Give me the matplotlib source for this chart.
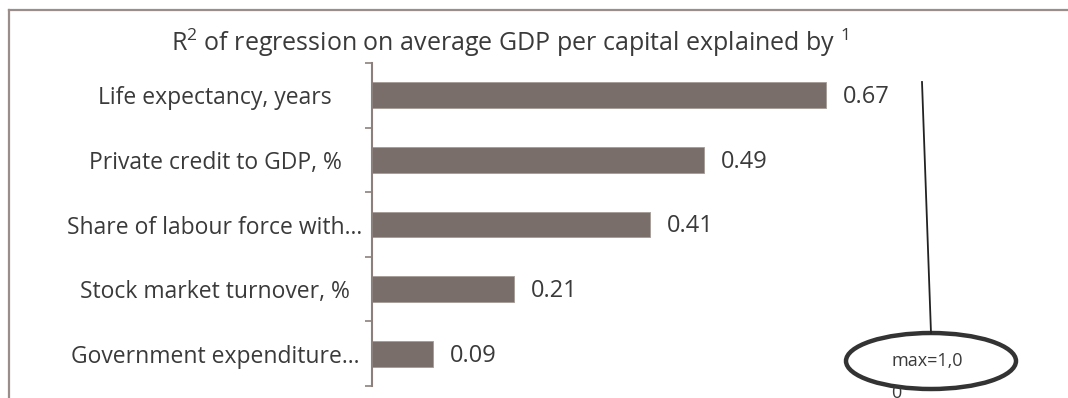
import matplotlib
matplotlib.use("Agg")
import matplotlib.pyplot as plt
from matplotlib.patches import Ellipse
from matplotlib.lines import Line2D

plt.rcParams["font.family"] = ["Open Sans", "DejaVu Sans"]
plt.rcParams["mathtext.fontset"] = "custom"
plt.rcParams["mathtext.rm"] = "Open Sans"

categories = [
    "Life expectancy, years",
    "Private credit to GDP, %",
    "Share of labour force with…",
    "Stock market turnover, %",
    "Government expenditure…",
]
values = [0.67, 0.49, 0.41, 0.21, 0.09]
value_labels = ["0.67", "0.49", "0.41", "0.21", "0.09"]
title = r"R$^\mathrm{2}$ of regression on average GDP per capital explained by $^\mathrm{1}$"
note = "max=1,0"

W, H = 1068, 398
fig = plt.figure(figsize=(W / 100, H / 100), dpi=100)

# axes placed so the bar scale matches the picture
ax = fig.add_axes([372 / W, 12 / H, 678 / W, 323 / H])

bar_color = "#7a6e6a"
text_color = "#3a3a3a"
axis_color = "#8c807c"

pos = list(range(len(categories)))
ax.barh(pos, values, height=0.4, color=bar_color, edgecolor="#a59b97", linewidth=0.6)
ax.set_xlim(0, 1.0)
ax.set_ylim(len(categories) - 0.5, -0.5)

for p, v, lab in zip(pos, values, value_labels):
    ax.text(v + 0.025, p + 0.03, lab, va="center", ha="left", fontsize=17, color=text_color)

# boundary ticks without labels, centred labels without ticks
ax.set_yticks([p - 0.5 for p in range(len(categories) + 1)])
ax.set_yticklabels([])
ax.set_yticks(pos, minor=True)
ax.set_yticklabels(categories, minor=True, fontsize=16.5, color=text_color)
ax.tick_params(axis="y", which="major", length=5, width=1.2, color=axis_color, direction="out")
# labels centred in the area left of the axis, like the spreadsheet does
ax.tick_params(axis="y", which="minor", length=0, pad=113)
for lab in ax.get_yticklabels(minor=True):
    lab.set_ha("center")

ax.set_xticks([])
for side in ["top", "right", "bottom"]:
    ax.spines[side].set_visible(False)
ax.spines["left"].set_color(axis_color)
ax.spines["left"].set_linewidth(1.5)
ax.patch.set_alpha(0)

fig.text(510 / W, 1 - 43 / H, title, ha="center", va="center", fontsize=18, color=text_color)

# outer frame (only left and top visible)
frame = "#9a8d8a"
fig.add_artist(Line2D([9 / W, 9 / W], [1 - 10 / H, 0], transform=fig.transFigure, color=frame, lw=1.6))
fig.add_artist(Line2D([9 / W, 1], [1 - 10 / H, 1 - 10 / H], transform=fig.transFigure, color=frame, lw=1.6))

# callout
fig.add_artist(Line2D([922 / W, 931 / W], [1 - 82 / H, 1 - 333 / H], transform=fig.transFigure,
                      color="#222222", lw=1.3))
fig.add_artist(Ellipse((931 / W, 1 - 361 / H), 170 / W, 56 / H, transform=fig.transFigure,
                       facecolor="white", edgecolor="#333333", lw=3.2))
fig.text(927 / W, 1 - 361 / H, note, ha="center", va="center", fontsize=13, color=text_color)
fig.text(896 / W, 1 - 393 / H, "0", ha="center", va="center", fontsize=13, color=text_color)

fig.savefig("out.png", dpi=100)
